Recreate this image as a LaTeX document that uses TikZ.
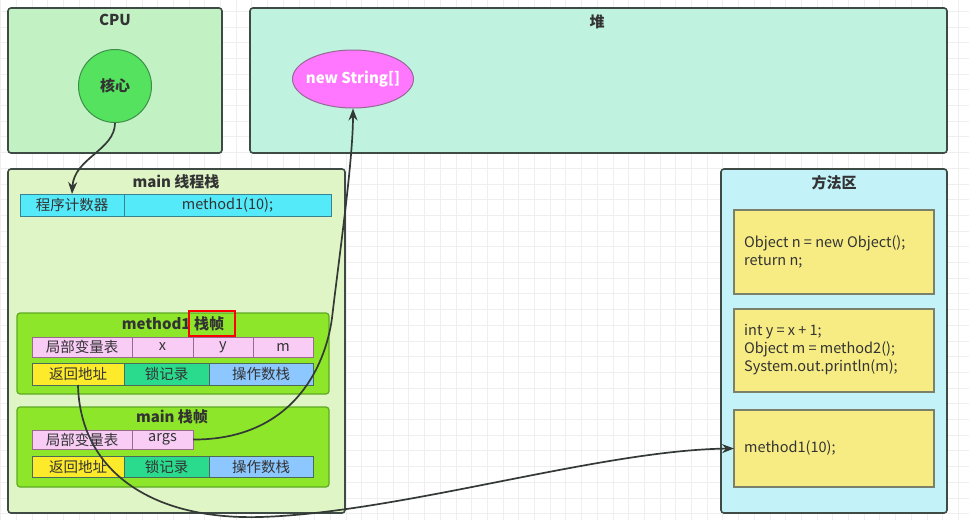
\documentclass[tikz,border=0pt]{standalone}
\usepackage{fontspec}
\setmainfont{Noto Sans CJK SC}
\usetikzlibrary{arrows.meta,shapes.geometric}
\definecolor{gridc}{HTML}{EFEFEF}
\definecolor{panelline}{HTML}{3E4A44}
\definecolor{txt}{HTML}{333333}
\definecolor{cpufill}{HTML}{C2F2C4}
\definecolor{corefill}{HTML}{55E35F}
\definecolor{coreline}{HTML}{3C8E48}
\definecolor{heapfill}{HTML}{C0F2E0}
\definecolor{strfill}{HTML}{FF77FF}
\definecolor{strline}{HTML}{946A94}
\definecolor{stackfill}{HTML}{E0F5C6}
\definecolor{framefill}{HTML}{8EE62A}
\definecolor{frameline}{HTML}{5CAA22}
\definecolor{pcfill}{HTML}{55EAFA}
\definecolor{pcline}{HTML}{3A8290}
\definecolor{pinkfill}{HTML}{F8CCF5}
\definecolor{pinkline}{HTML}{9A6A8E}
\definecolor{yelfill}{HTML}{FDEB2B}
\definecolor{lockfill}{HTML}{2ADB8E}
\definecolor{opfill}{HTML}{8CC8FF}
\definecolor{rowline}{HTML}{4A6A5A}
\definecolor{areafill}{HTML}{C3F3F9}
\definecolor{codefill}{HTML}{F7EC84}
\definecolor{codeline}{HTML}{7A806A}
\definecolor{arrowc}{HTML}{333A36}
\tikzset{
  base/.style={inner sep=0pt, outer sep=0pt, anchor=north west},
  panel/.style={base, draw=panelline, line width=1.6pt, rounded corners=3pt},
  frm/.style={base, draw=frameline, fill=framefill, line width=1.2pt, rounded corners=3pt},
  cell/.style={base, draw=#1, line width=1pt, text=txt, font=\fontsize{14.5}{17}\selectfont},
  ttl/.style={text=txt, font=\bfseries\fontsize{15}{18}\selectfont, inner sep=0pt},
  codebox/.style={base, draw=codeline, fill=codefill, line width=1.2pt, minimum width=200pt},
  code/.style={anchor=west, align=left, text=txt, inner sep=0pt, font=\fontsize{14.5}{18}\selectfont},
  conn/.style={draw=arrowc, line width=1.7pt, -{Stealth[length=12pt,width=9pt]}},
}
\begin{document}
\begin{tikzpicture}[x=1pt,y=-1pt]
\useasboundingbox (0,0) rectangle (969,520);
\fill[white] (0,0) rectangle (969,520);
\foreach \i in {0,...,61} \draw[gridc, line width=0.8pt] ({\i*15.7+0.6},0) -- ({\i*15.7+0.6},520);
\foreach \j in {0,...,33} \draw[gridc, line width=0.8pt] (0,{\j*15.7+11.2}) -- (969,{\j*15.7+11.2});

% CPU
\node[panel, fill=cpufill, minimum width=214pt, minimum height=145pt] (cpu) at (8,8) {};
\node[ttl] (cputitle) at (115,20) {CPU};
\node[circle, draw=coreline, fill=corefill, line width=1pt, minimum size=73pt, inner sep=0pt, text=txt, font=\bfseries\fontsize{15}{18}\selectfont] (core) at (115,86) {核心};

% heap
\node[panel, fill=heapfill, minimum width=697pt, minimum height=145pt] (heap) at (250,8) {};
\node[ttl] (heaptitle) at (597,22) {堆};
\node[ellipse, draw=strline, fill=strfill, line width=1pt, minimum width=121pt, minimum height=58pt, inner sep=0pt] (str) at (353,79) {};
\node[text=white, inner sep=0pt, font=\bfseries\fontsize{15}{18}\selectfont] (strt) at (str.center) {new String[]};

% main thread stack
\node[panel, fill=stackfill, minimum width=337pt, minimum height=344pt] (stack) at (8,169) {};
\node[ttl] (stacktitle) at (176,182) {main 线程栈};
\node[cell=pcline, fill=pcfill, minimum width=104pt, minimum height=22pt] (pc1) at (20,194) {程序计数器};
\node[cell=pcline, fill=pcfill, minimum width=207pt, minimum height=22pt] (pc2) at (124,194) {method1(10);};

% method1 frame
\node[frm, minimum width=312pt, minimum height=81pt] (f1) at (17,313) {};
\node[ttl] (f1title) at (173,324) {method1 栈帧};
\draw[red, line width=1.6pt] (189,311) rectangle (235,336);
\node[cell=pinkline, fill=pinkfill, minimum width=100pt, minimum height=20pt] (f1a) at (32,337) {局部变量表};
\node[cell=pinkline, fill=pinkfill, minimum width=61pt, minimum height=20pt] (f1b) at (132,337) {x};
\node[cell=pinkline, fill=pinkfill, minimum width=60pt, minimum height=20pt] (f1c) at (193,337) {y};
\node[cell=pinkline, fill=pinkfill, minimum width=60pt, minimum height=20pt] (f1d) at (253,337) {m};
\node[cell=rowline, fill=yelfill, minimum width=92pt, minimum height=22pt] (ret1) at (32,363) {返回地址};
\node[cell=rowline, fill=lockfill, minimum width=85pt, minimum height=22pt] (lock1) at (124,363) {锁记录};
\node[cell=rowline, fill=opfill, minimum width=104pt, minimum height=22pt] (op1) at (209,363) {操作数栈};

% main frame
\node[frm, minimum width=312pt, minimum height=80pt] (f2) at (17,407) {};
\node[ttl] (f2title) at (172,417) {main 栈帧};
\node[cell=pinkline, fill=pinkfill, minimum width=100pt, minimum height=19pt] (f2a) at (32,430) {局部变量表};
\node[cell=pinkline, fill=pinkfill, minimum width=61pt, minimum height=19pt] (args) at (132,430) {args};
\node[cell=rowline, fill=yelfill, minimum width=92pt, minimum height=21pt] (ret2) at (32,456) {返回地址};
\node[cell=rowline, fill=lockfill, minimum width=85pt, minimum height=21pt] (lock2) at (124,456) {锁记录};
\node[cell=rowline, fill=opfill, minimum width=104pt, minimum height=21pt] (op2) at (209,456) {操作数栈};

% method area
\node[panel, fill=areafill, minimum width=226pt, minimum height=344pt] (area) at (721,169) {};
\node[ttl] (areatitle) at (834,183) {方法区};
\node[codebox, minimum height=84pt] (m1) at (734,210) {};
\node[code] (m1t) at (744,252) {Object n = new Object();\\return n;};
\node[codebox, minimum height=83pt] (m2) at (734,309) {};
\node[code] (m2t) at (744,350) {int y = x + 1;\\Object m = method2();\\System.out.println(m);};
\node[codebox, minimum height=77pt] (m3) at (734,410) {};
\node[code] (m3t) at (744,448) {method1(10);};

% connectors
\draw[conn] (core.south) .. controls (115,150) and (74,158) .. (pc1.north);
\draw[conn] (args.east) .. controls (290,440) and (325,370) .. (332,318) .. controls (340,250) and (353,160) .. (str.south);
\draw[conn] (ret1.south) .. controls (80,470) and (150,520) .. (260,517) .. controls (400,513) and (600,450) .. (m3.west);
\end{tikzpicture}
\end{document}
